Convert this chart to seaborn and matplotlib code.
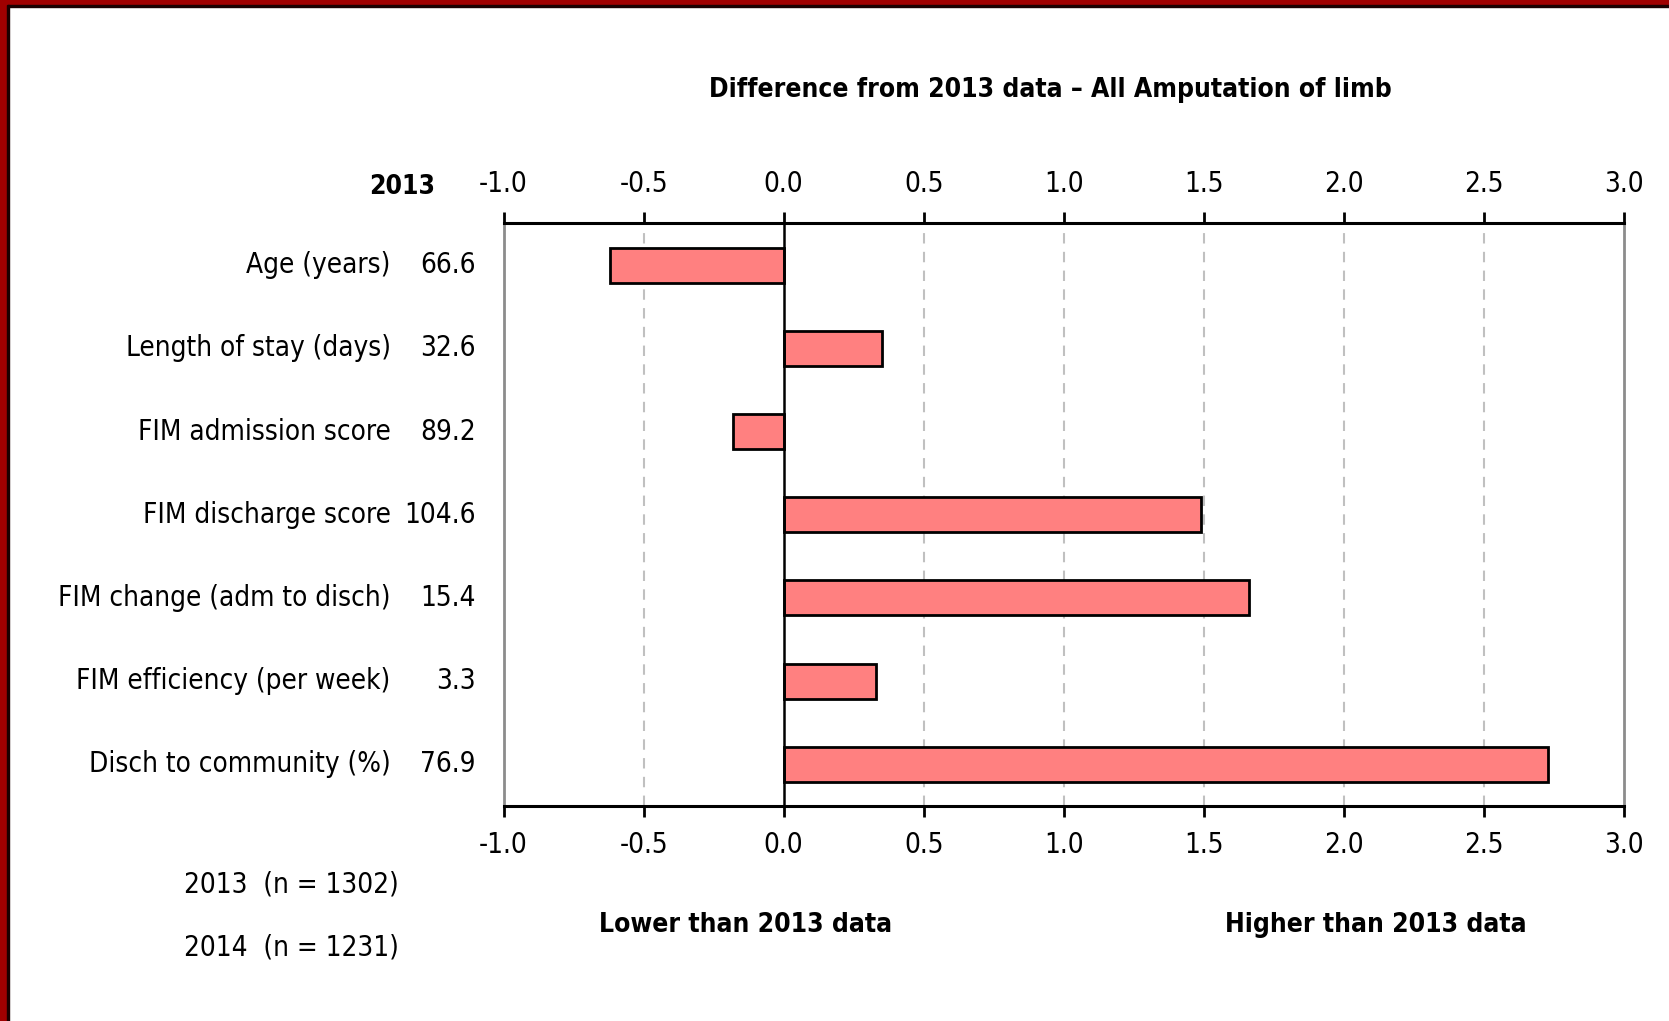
import numpy as np
import pandas as pd
import matplotlib
matplotlib.use("Agg")
import matplotlib.pyplot as plt
import seaborn as sns
from matplotlib.patches import Rectangle

# Chart data
categories = [
    "Age (years)",
    "Length of stay (days)",
    "FIM admission score",
    "FIM discharge score",
    "FIM change (adm to disch)",
    "FIM efficiency (per week)",
    "Disch to community (%)",
]
values_2013 = ["66.6", "32.6", "89.2", "104.6", "15.4", "3.3", "76.9"]
difference = [-0.62, 0.35, -0.18, 1.49, 1.66, 0.33, 2.73]
x_ticks = [-1.0, -0.5, 0.0, 0.5, 1.0, 1.5, 2.0, 2.5, 3.0]
x_tick_labels = ["-1.0", "-0.5", "0.0", "0.5", "1.0", "1.5", "2.0", "2.5", "3.0"]
sample_notes = ["2013  (n = 1302)", "2014  (n = 1231)"]

sns.set_style("white")
plt.rcParams["font.family"] = ["DejaVu Sans"]
plt.rcParams["font.stretch"] = "condensed"
plt.rcParams["text.color"] = "black"
plt.rcParams["xtick.color"] = "black"

df = pd.DataFrame({"measure": categories, "diff": difference})

fig = plt.figure(figsize=(16.69, 10.21), dpi=100)
ax = fig.add_axes([0.3017, 0.2106, 0.6714, 0.5705])

sns.barplot(data=df, x="diff", y="measure", orient="h", color="#FF8080",
            saturation=1, edgecolor="black", linewidth=2, width=0.42, ax=ax)

ax.set_xlim(-1.0, 3.0)
ax.set_ylim(6.5, -0.5)
ax.set_xticks(x_ticks)
ax.set_xticklabels(x_tick_labels, fontsize=20)
ax.set_yticks([])
ax.set_xlabel("")
ax.set_ylabel("")

# dashed vertical grid, solid black zero line
for t in x_ticks[1:-1]:
    if t != 0:
        ax.axvline(t, color="#c0c0c0", ls=(0, (5, 4)), lw=1.5, zorder=0)
ax.axvline(0, color="black", lw=1.8, zorder=3)

ax.tick_params(axis="x", top=True, labeltop=True, bottom=True, labelbottom=True,
               direction="out", length=8, width=2, pad=10, color="black")

for side in ["top", "bottom"]:
    ax.spines[side].set_color("black")
    ax.spines[side].set_linewidth(2.2)
for side in ["left", "right"]:
    ax.spines[side].set_visible(True)
    ax.spines[side].set_color("#8c8c8c")
    ax.spines[side].set_linewidth(2)

# category labels and 2013 values as two text columns
ytrans = ax.get_yaxis_transform()
for i, (cat, val) in enumerate(zip(categories, values_2013)):
    ax.text(-0.1008, i, cat, transform=ytrans, ha="right", va="center", fontsize=20)
    ax.text(-0.0247, i, val, transform=ytrans, ha="right", va="center", fontsize=20)
ax.text(-0.061, 1.062, "2013", transform=ax.transAxes, ha="right", va="center",
        fontsize=19, fontweight="bold")

fig.text(0.6295, 0.912, "Difference from 2013 data \u2013 All Amputation of limb",
         ha="center", va="center", fontsize=19, fontweight="bold")
fig.text(0.4465, 0.094, "Lower than 2013 data", ha="center", va="center",
         fontsize=19, fontweight="bold")
fig.text(0.8246, 0.094, "Higher than 2013 data", ha="center", va="center",
         fontsize=19, fontweight="bold")
fig.text(0.110, 0.1337, sample_notes[0], ha="left", va="center", fontsize=20)
fig.text(0.110, 0.0723, sample_notes[1], ha="left", va="center", fontsize=20)

# dark red frame on the top and left edges
W, H = 1669, 1021
fig.patches.append(Rectangle((0, 1 - 5 / H), 1, 5 / H, transform=fig.transFigure,
                             color="#A00000", zorder=10))
fig.patches.append(Rectangle((0, 1 - 7 / H), 1, 2 / H, transform=fig.transFigure,
                             color="#1a0000", zorder=10))
fig.patches.append(Rectangle((0, 0), 7 / W, 1, transform=fig.transFigure,
                             color="#A00000", zorder=10))
fig.patches.append(Rectangle((7 / W, 0), 2 / W, 1 - 5 / H, transform=fig.transFigure,
                             color="#1a0000", zorder=10))

fig.savefig("out.png", dpi=100)
